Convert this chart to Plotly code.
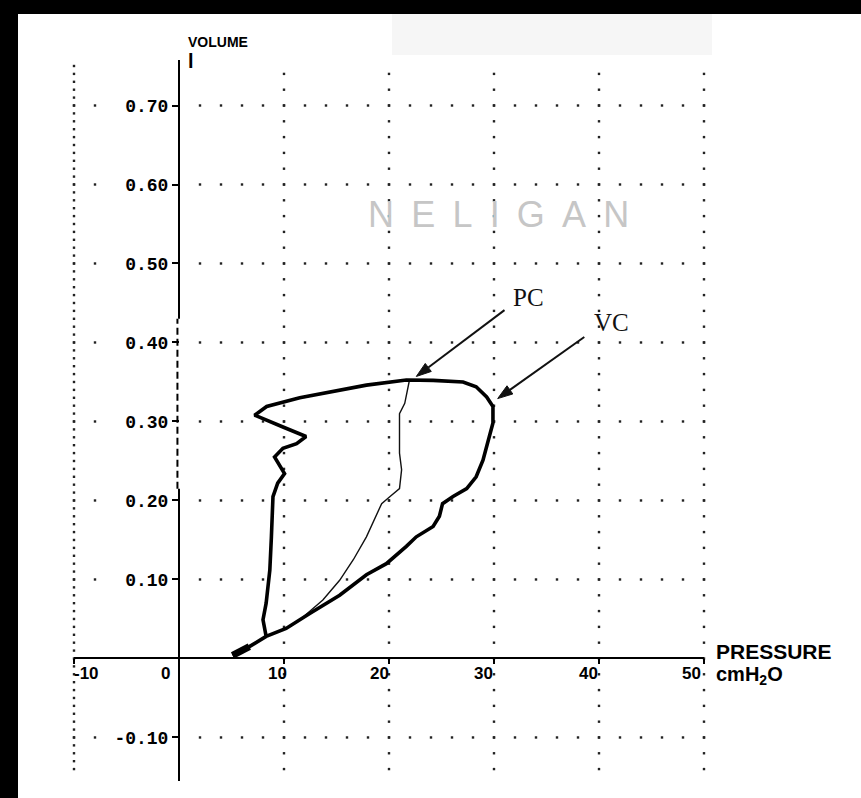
import math
import plotly.graph_objects as go

# ---------------- data ----------------
# thick loop (VC)
vc_pressure = [5.1, 6.7, 8.3, 10.2, 12.45, 15.3, 17.85, 19.75, 21.65, 22.6, 24.2, 24.8, 25.1,
               26.1, 27.4, 28.3, 28.95, 29.4, 29.9, 29.9, 29.3, 28.3, 27.05, 24.2, 21.65,
               17.85, 14.7, 11.5, 8.35, 7.2, 9.9, 12.1, 11.2, 9.9, 9.1, 9.6, 10.05, 9.4,
               8.95, 8.8, 8.65, 8.3, 8.0, 8.3, 6.7, 5.1]
vc_volume = [0.004, 0.015, 0.028, 0.038, 0.057, 0.080, 0.106, 0.120, 0.142, 0.154, 0.167, 0.180,
             0.196, 0.205, 0.215, 0.230, 0.251, 0.272, 0.298, 0.319, 0.331, 0.344, 0.350,
             0.352, 0.3525, 0.346, 0.338, 0.330, 0.319, 0.308, 0.293, 0.281, 0.272, 0.266,
             0.255, 0.243, 0.234, 0.222, 0.205, 0.154, 0.112, 0.070, 0.049, 0.028, 0.015,
             0.004]
# thin line (PC)
pc_pressure = [11.6, 12.45, 13.7, 15.3, 16.6, 17.85, 18.6, 19.3, 20.1, 21.0, 21.2, 21.0, 21.0,
               21.0, 21.5, 21.8, 21.95]
pc_volume = [0.050, 0.060, 0.074, 0.099, 0.125, 0.154, 0.175, 0.196, 0.205, 0.215, 0.239,
             0.260, 0.290, 0.310, 0.323, 0.340, 0.3525]

x_ticks = [-10, 0, 10, 20, 30, 40, 50]
x_tick_labels = ["-10", "0", "10", "20", "30", "40", "50"]
y_ticks = [-0.1, 0.1, 0.2, 0.3, 0.4, 0.5, 0.6, 0.7]
y_tick_labels = ["-0.10", "0.10", "0.20", "0.30", "0.40", "0.50", "0.60", "0.70"]

# ---------------- layout geometry ----------------
W, H = 861, 798
ML, MR, MT, MB = 74, 157, 60, 17
PW, PH = W - ML - MR, H - MT - MB
X0, X1 = -10, 50
Y0, Y1 = -0.1551, 0.7576
SX = PW / (X1 - X0)   # px per pressure unit
SY = PH / (Y1 - Y0)   # px per volume unit


def pxx(px):
    return (px - ML) / PW


def pxy(py):
    return (H - MB - py) / PH


fig = go.Figure()

# dotted grid
dot_x, dot_y = [], []
for yv in y_ticks:
    for xv in [-10, -8] + list(range(2, 51, 2)):
        dot_x.append(xv)
        dot_y.append(yv)
for xv in [10, 20, 30, 40, 50]:
    for k in range(-7, 39):
        dot_x.append(xv)
        dot_y.append(k * 0.02)
for k in range(-14, 77):
    dot_x.append(-10)
    dot_y.append(k * 0.01)
fig.add_trace(go.Scatter(x=dot_x, y=dot_y, mode="markers", cliponaxis=False,
                         marker=dict(symbol="square", size=2.4, color="#222222", line=dict(width=0)),
                         hoverinfo="skip", showlegend=False))

# curves
fig.add_trace(go.Scatter(x=pc_pressure, y=pc_volume, mode="lines",
                         line=dict(color="#111111", width=1.4), showlegend=False, name="PC"))
fig.add_trace(go.Scatter(x=vc_pressure, y=vc_volume, mode="lines",
                         line=dict(color="#000000", width=3.6, shape="linear"), showlegend=False, name="VC"))
# heavier start blob of the VC trace
fig.add_trace(go.Scatter(x=vc_pressure[:2], y=vc_volume[:2], mode="lines",
                         line=dict(color="#000000", width=7), showlegend=False, hoverinfo="skip"))

shapes = []
# light grey box at top
shapes.append(dict(type="rect", xref="paper", yref="paper", x0=pxx(392), x1=pxx(712), y0=pxy(55), y1=pxy(12),
                   fillcolor="#f6f6f6", line=dict(width=0), layer="below"))
# black borders
shapes.append(dict(type="rect", xref="paper", yref="paper", x0=pxx(0), x1=pxx(18), y0=pxy(H), y1=pxy(0),
                   fillcolor="black", line=dict(width=0)))
shapes.append(dict(type="rect", xref="paper", yref="paper", x0=pxx(0), x1=pxx(W), y0=pxy(14), y1=pxy(0),
                   fillcolor="black", line=dict(width=0)))
# vertical axis (volume) drawn at pressure 0
shapes.append(dict(type="line", xref="x", yref="y", x0=0, x1=0, y0=Y0, y1=0.215,
                   line=dict(color="black", width=2)))
shapes.append(dict(type="line", xref="x", yref="y", x0=-0.15, x1=-0.15, y0=0.215, y1=0.43,
                   line=dict(color="black", width=2, dash="7px,4px")))
shapes.append(dict(type="line", xref="x", yref="y", x0=0, x1=0, y0=0.43, y1=Y1,
                   line=dict(color="black", width=2)))


def arrow(tail, tip, head_len=15, half_w=5):
    """line + filled arrow head, in data coordinates."""
    dxp = (tip[0] - tail[0]) * SX
    dyp = (tip[1] - tail[1]) * SY
    n = math.hypot(dxp, dyp)
    ux, uy = dxp / n, dyp / n
    bx = tip[0] - ux * head_len / SX
    by = tip[1] - uy * head_len / SY
    lx, ly = -uy * half_w / SX, ux * half_w / SY
    out = [dict(type="line", xref="x", yref="y", x0=tail[0], y0=tail[1], x1=bx, y1=by,
                line=dict(color="#111111", width=2))]
    path = (f"M {tip[0]},{tip[1]} L {bx + lx},{by + ly} L {bx - lx},{by - ly} Z")
    out.append(dict(type="path", xref="x", yref="y", path=path, fillcolor="#111111",
                    line=dict(color="#111111", width=1)))
    return out


shapes += arrow((31.0, 0.441), (22.6, 0.357))
shapes += arrow((38.6, 0.407), (30.35, 0.329))

annotations = []
tick_font = dict(family="Liberation Sans Narrow, Liberation Sans, Arial", size=17, color="black", weight="bold")
x_label_shift = [12, -14, -7, -10, -11, -11, -13]
for xv, lab, sh in zip(x_ticks, x_tick_labels, x_label_shift):
    annotations.append(dict(x=xv, y=0, xref="x", yref="y", text=lab, showarrow=False,
                            xanchor="center", yanchor="middle", xshift=sh, yshift=-15, font=tick_font))

gap = "\u00a0\u2009"
annotations += [
    dict(x=pxx(186), y=pxy(42), xref="paper", yref="paper", text="VOLUME", showarrow=False,
         xanchor="left", yanchor="middle",
         font=dict(family="Liberation Sans Narrow, Liberation Sans, Arial", size=14, color="black", weight="bold")),
    dict(x=pxx(186), y=pxy(61), xref="paper", yref="paper", text="l", showarrow=False,
         xanchor="left", yanchor="middle",
         font=dict(family="Liberation Sans, Arial", size=20, color="black", weight="bold")),
    dict(x=pxx(714), y=pxy(651), xref="paper", yref="paper", text="PRESSURE", showarrow=False,
         xanchor="left", yanchor="middle",
         font=dict(family="Liberation Sans, Arial", size=21, color="black", weight="bold")),
    dict(x=pxx(714), y=pxy(675), xref="paper", yref="paper", text="cmH<sub>2</sub>O", showarrow=False,
         xanchor="left", yanchor="middle",
         font=dict(family="Liberation Sans, Arial", size=20, color="black", weight="bold")),
    dict(x=pxx(498), y=pxy(214), xref="paper", yref="paper",
         text=gap.join("NELIGAN"), showarrow=False,
         xanchor="center", yanchor="middle",
         font=dict(family="Liberation Sans, Arial", size=36, color="#c6c6c6")),
    # curve labels
    dict(x=pxx(511), y=pxy(297), xref="paper", yref="paper", text="PC", showarrow=False,
         xanchor="left", yanchor="middle", font=dict(family="Liberation Serif, Times New Roman", size=25, color="#111111")),
    dict(x=pxx(592), y=pxy(323), xref="paper", yref="paper", text="VC", showarrow=False,
         xanchor="left", yanchor="middle", font=dict(family="Liberation Serif, Times New Roman", size=25, color="#111111")),
]

fig.update_layout(
    width=W, height=H, autosize=False,
    margin=dict(l=ML, r=MR, t=MT, b=MB, pad=0),
    paper_bgcolor="white", plot_bgcolor="white",
    showlegend=False,
    shapes=shapes, annotations=annotations,
    xaxis=dict(range=[X0, X1], anchor="free", position=(0 - Y0) / (Y1 - Y0),
               showgrid=False, zeroline=False, showline=True, linecolor="black", linewidth=2,
               ticks="outside", ticklen=5, tickwidth=2, tickcolor="black",
               tickvals=x_ticks, showticklabels=False, fixedrange=True),
    yaxis=dict(range=[Y0, Y1], anchor="free", position=(0 - X0) / (X1 - X0),
               showgrid=False, zeroline=False, showline=False,
               ticks="outside", ticklen=7, tickwidth=2, tickcolor="black",
               tickvals=y_ticks, ticktext=y_tick_labels,
               tickfont=dict(family="Liberation Mono, DejaVu Sans Mono", size=18, color="black", weight="bold"),
               fixedrange=True),
)

fig.write_html("out.html", config={"displayModeBar": False},
               post_script="document.body.style.margin='0';document.body.style.overflow='hidden';")
